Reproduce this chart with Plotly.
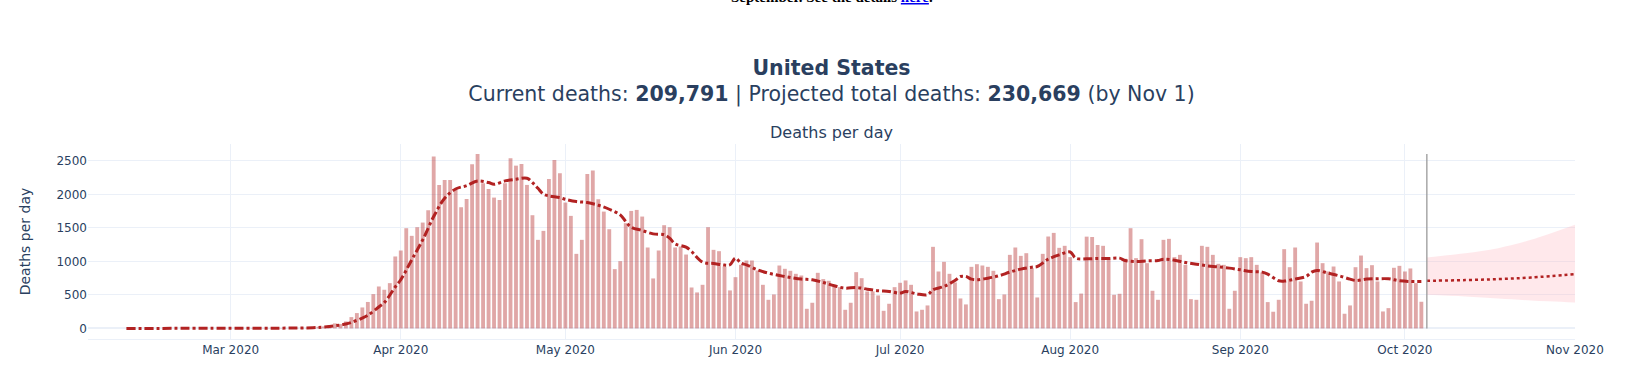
import pandas as pd
import plotly.graph_objects as go

# ---------------- data ----------------
country = "United States"
current_deaths = "209,791"
projected_deaths = "230,669"
projection_until = "Nov 1"

start_date = "2020-02-11"
today = "2020-10-05"

deaths_feb = [0, 0, 0, 0, 0, 0, 0, 0, 0, 0, 0, 0, 0, 0, 0, 0, 0, 0, 1]  # Feb 11 - Feb 29
deaths_mar = [1, 0, 5, 1, 4, 1, 2, 3, 4, 4, 3, 7, 8, 10, 8, 15, 25, 30, 50, 75,
              65, 104, 169, 229, 313, 395, 512, 626, 577, 676, 1074]
deaths_apr = [1163, 1496, 1382, 1511, 1580, 1764, 2565, 2142, 2217, 2217, 2068, 1809,
              1933, 2450, 2604, 2167, 2082, 1953, 1918, 2167, 2540, 2430, 2455, 2142,
              1690, 1322, 1456, 2232, 2515, 2316]
deaths_may = [1879, 1680, 1113, 1322, 2306, 2356, 1928, 1744, 1481, 885, 1004, 1571,
              1754, 1769, 1670, 1208, 746, 1163, 1541, 1511, 1208, 1223, 1103, 611,
              537, 651, 1511, 1173, 1153, 924, 567]
deaths_jun = [765, 949, 1014, 1014, 865, 651, 427, 507, 939, 890, 860, 815, 790, 293,
              383, 830, 736, 711, 626, 616, 278, 383, 840, 750, 552, 552, 492, 263,
              368, 616]
deaths_jul = [681, 716, 651, 253, 278, 343, 1218, 850, 994, 815, 686, 447, 358, 919,
              959, 939, 919, 860, 437, 507, 1098, 1208, 1083, 1123, 900, 462, 1113,
              1372, 1426, 1203, 1233]
deaths_aug = [1064, 393, 520, 1370, 1365, 1245, 1233, 1064, 502, 517, 1040, 1496,
              1049, 1332, 974, 562, 427, 1322, 1337, 1064, 1098, 949, 437, 427, 1233,
              1218, 1098, 964, 949, 293, 562]
deaths_sep = [1064, 1049, 1064, 949, 835, 393, 249, 427, 1183, 914, 1208, 701, 368,
              413, 1282, 974, 850, 924, 701, 219, 343, 914, 1088, 900, 944, 701, 253,
              303, 905, 934]
deaths_oct = [850, 895, 676, 398]

avg_dates = ["2020-02-11", "2020-03-01", "2020-03-10", "2020-03-16", "2020-03-19",
             "2020-03-22", "2020-03-23", "2020-03-25", "2020-03-26", "2020-03-28",
             "2020-03-29", "2020-03-31", "2020-04-01", "2020-04-03", "2020-04-05",
             "2020-04-07", "2020-04-09", "2020-04-11", "2020-04-13", "2020-04-15",
             "2020-04-17", "2020-04-18", "2020-04-20", "2020-04-22", "2020-04-24",
             "2020-04-25", "2020-04-26", "2020-04-27", "2020-04-28", "2020-04-30",
             "2020-05-01", "2020-05-03", "2020-05-05", "2020-05-07", "2020-05-09",
             "2020-05-11", "2020-05-12", "2020-05-13", "2020-05-15", "2020-05-17",
             "2020-05-19", "2020-05-20", "2020-05-21", "2020-05-23", "2020-05-24",
             "2020-05-26", "2020-05-28", "2020-05-30", "2020-05-31", "2020-06-01",
             "2020-06-02", "2020-06-03", "2020-06-05", "2020-06-07", "2020-06-09",
             "2020-06-11", "2020-06-13", "2020-06-15", "2020-06-17", "2020-06-19",
             "2020-06-21", "2020-06-23", "2020-06-25", "2020-06-27", "2020-06-29",
             "2020-07-01", "2020-07-02", "2020-07-04", "2020-07-06", "2020-07-07",
             "2020-07-09", "2020-07-11", "2020-07-12", "2020-07-13", "2020-07-14",
             "2020-07-15", "2020-07-17", "2020-07-19", "2020-07-21", "2020-07-23",
             "2020-07-25", "2020-07-26", "2020-07-28", "2020-07-30", "2020-08-01",
             "2020-08-02", "2020-08-04", "2020-08-06", "2020-08-08", "2020-08-10",
             "2020-08-11", "2020-08-13", "2020-08-15", "2020-08-17", "2020-08-18",
             "2020-08-20", "2020-08-22", "2020-08-24", "2020-08-26", "2020-08-28",
             "2020-08-30", "2020-09-01", "2020-09-03", "2020-09-05", "2020-09-06",
             "2020-09-08", "2020-09-09", "2020-09-11", "2020-09-13", "2020-09-14",
             "2020-09-15", "2020-09-17", "2020-09-19", "2020-09-21", "2020-09-22",
             "2020-09-24", "2020-09-26", "2020-09-28", "2020-09-30", "2020-10-02",
             "2020-10-04"]
avg_values = [0, 2, 4, 10, 30,
              65, 89, 154, 195, 320,
              385, 620, 726, 1024, 1322,
              1670, 1943, 2082, 2132, 2200,
              2177, 2152, 2202, 2227, 2241,
              2177, 2092, 2003, 1978, 1953,
              1928, 1894, 1879, 1839, 1779,
              1695, 1595, 1511, 1461, 1411,
              1397, 1347, 1262, 1213, 1148,
              990, 970, 945, 950, 1049,
              975, 949, 875, 825, 790,
              760, 736, 726, 686, 636,
              601, 611, 586, 562, 552,
              527, 552, 517, 502, 577,
              626, 716, 775, 775, 736,
              726, 750, 785, 840, 885,
              914, 924, 1034, 1098, 1140,
              1049, 1039, 1044, 1044, 1049,
              1014, 999, 1009, 1014, 1034,
              1019, 984, 959, 934, 919,
              900, 875, 850, 840, 810,
              711, 706, 736, 775, 840,
              865, 825, 785, 736, 716,
              736, 741, 741, 711, 701,
              701]

proj_dates = ["2020-10-05", "2020-10-12", "2020-10-18", "2020-10-24", "2020-11-01"]
proj_mean = [711, 721, 736, 760, 810]
proj_upper = [1059, 1123, 1198, 1322, 1546]
proj_lower = [502, 477, 447, 417, 388]

x_range = ["2020-02-04", "2020-11-01"]
y_range = [-158, 2753]

# ---------------- figure ----------------
deaths = (deaths_feb + deaths_mar + deaths_apr + deaths_may + deaths_jun +
          deaths_jul + deaths_aug + deaths_sep + deaths_oct)
dates = pd.date_range(start_date, periods=len(deaths), freq="D")

FONT = "Verdana, 'DejaVu Sans', sans-serif"
RED = "firebrick"

fig = go.Figure()
fig.add_trace(go.Bar(x=dates, y=deaths, marker=dict(color="rgba(178,34,34,0.40)", line=dict(width=0)),
                     name="Deaths per day", showlegend=False))
fig.add_trace(go.Scatter(x=proj_dates, y=proj_lower, mode="lines",
                         line=dict(width=0, shape="spline"), hoverinfo="skip", showlegend=False))
fig.add_trace(go.Scatter(x=proj_dates, y=proj_upper, mode="lines", fill="tonexty",
                         fillcolor="rgba(255,182,193,0.32)",
                         line=dict(width=0, shape="spline"), hoverinfo="skip", showlegend=False))
fig.add_trace(go.Scatter(x=avg_dates, y=avg_values, mode="lines",
                         line=dict(color=RED, width=3, dash="dashdot", shape="spline"),
                         showlegend=False))
fig.add_trace(go.Scatter(x=proj_dates, y=proj_mean, mode="lines",
                         line=dict(color=RED, width=2.5, dash="dot", shape="spline"),
                         showlegend=False))

fig.add_shape(type="line", xref="x", yref="y", x0=today, x1=today, y0=0, y1=max(deaths),
              line=dict(color="#9a9a9a", width=1.3))

title_text = (f"<b>{country}</b><br>Current deaths: <b>{current_deaths}</b> | "
              f"Projected total deaths: <b>{projected_deaths}</b> (by {projection_until})")

fig.update_layout(
    template="plotly_white",
    width=1644, height=377, autosize=False,
    margin=dict(l=88, r=69, t=144, b=38),
    font=dict(family=FONT, color="#2a3f5f", size=12),
    bargap=0.3,
    showlegend=False,
    title=dict(text=title_text, x=0.5, xref="paper", xanchor="center",
               y=0.802, yref="container", yanchor="middle",
               font=dict(size=20.5, family=FONT)),
    annotations=[
        dict(text="Deaths per day", x=0.5, y=1.0, xref="paper", yref="paper",
             xanchor="center", yanchor="bottom", showarrow=False,
             font=dict(size=16, family=FONT)),
        dict(text="<b>September. See the details <a href='#'><span style='color:#0000EE'><u>here</u></span></a>.</b>",
             x=0.5, y=1 + (144 - 7.2) / 195.0, xref="paper", yref="paper",
             xanchor="center", yanchor="bottom", showarrow=False,
             font=dict(size=15, family="'Liberation Serif', 'Times New Roman', serif", color="black")),
    ],
)
fig.update_xaxes(type="date", range=x_range, dtick="M1", tick0="2020-01-01",
                 tickformat="%b %Y", showgrid=True, gridcolor="#EBF0F8",
                 showline=True, linecolor="#EBF0F8", linewidth=1)
fig.update_yaxes(range=y_range, dtick=500, tick0=0, gridcolor="#EBF0F8",
                 zeroline=True, zerolinecolor="#EBF0F8", zerolinewidth=2,
                 title=dict(text="Deaths per day", font=dict(size=14), standoff=22))

fig.write_html("out.html", config={"displayModeBar": False},
               post_script="document.body.style.margin='0';")
